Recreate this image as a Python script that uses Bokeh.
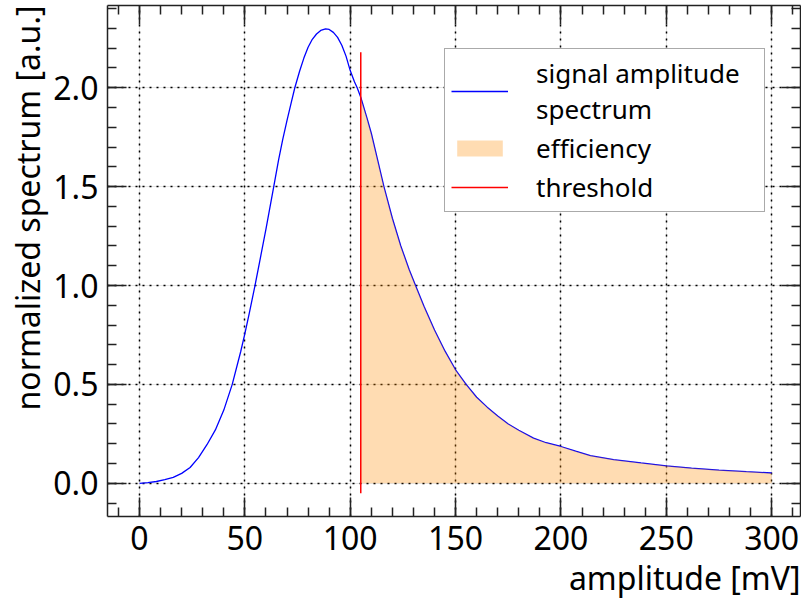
import numpy as np
from bokeh.plotting import figure
from bokeh.models import (Range1d, LinearAxis, Legend, LegendItem, FixedTicker,
                          ColumnDataSource, Grid, Title)
from bokeh.embed import file_html
from bokeh.resources import INLINE

# ---- data ----
amplitude = [0, 4, 8, 12, 16, 20, 24, 28, 32, 36, 40, 44, 48, 50, 52,
             54.7, 57, 60, 63.7, 66, 68, 70, 72, 73.7, 76, 78, 80, 82, 84, 86,
             88.3, 90, 92, 94, 96, 98, 100, 102, 103.3, 105, 108, 110, 113, 116,
             120, 124, 128, 131, 135, 140, 145, 150, 155, 160, 165, 170, 175,
             180, 187, 193, 200, 207, 214, 225, 238, 250, 262, 275, 288, 300]
spectrum = [0.0, 0.003, 0.009, 0.018, 0.03, 0.05, 0.08, 0.13, 0.195, 0.27,
            0.37, 0.5, 0.665, 0.757, 0.855, 0.995, 1.12, 1.285, 1.5, 1.635,
            1.74, 1.835, 1.925, 2.0, 2.085, 2.15, 2.205, 2.245, 2.272, 2.29,
            2.298, 2.295, 2.28, 2.255, 2.215, 2.16, 2.087, 2.03, 2.0, 1.952,
            1.845, 1.77, 1.635, 1.5, 1.34, 1.2, 1.08, 1.0, 0.895, 0.775, 0.668,
            0.574, 0.5, 0.435, 0.385, 0.34, 0.30, 0.268, 0.228, 0.205, 0.186,
            0.162, 0.140, 0.12, 0.103, 0.088, 0.077, 0.067, 0.059, 0.052]
threshold = 105.0
threshold_ymin = -0.05
threshold_ymax = 2.18

x_major = [0, 50, 100, 150, 200, 250, 300]
y_major = [0.0, 0.5, 1.0, 1.5, 2.0]
y_labels = {0.0: "0.0", 0.5: "0.5", 1.0: "1.0", 1.5: "1.5", 2.0: "2.0"}
x_minor = [v for v in range(-10, 320, 10)]
y_minor = [round(v, 1) for v in np.arange(-0.1, 2.45, 0.1)]

x_title = "amplitude [mV]"
y_title = "normalized spectrum [a.u.]"
legend_labels = ["signal amplitude\nspectrum", "efficiency", "threshold"]

FONT = "Noto Sans"
X0, X1 = -15.2, 313.7
Y0, Y1 = -0.168, 2.416

src = ColumnDataSource(dict(x=amplitude, y=spectrum))
eff_x = [a for a in amplitude if a >= threshold]
eff_y = [s for a, s in zip(amplitude, spectrum) if a >= threshold]
eff_src = ColumnDataSource(dict(x=eff_x, y1=[0.0] * len(eff_x), y2=eff_y))

p = figure(width=801, height=599, output_backend="svg", toolbar_location=None,
           x_range=Range1d(X0, X1), y_range=Range1d(Y0, Y1),
           min_border_left=107, min_border_right=1, min_border_top=5,
           min_border_bottom=83, x_axis_location=None, y_axis_location=None)
p.background_fill_color = "white"
p.border_fill_color = "white"
p.outline_line_color = None


def style_axis(ax, show_labels, ticks, minor):
    ax.ticker = FixedTicker(ticks=ticks, minor_ticks=minor)
    ax.axis_line_color = "#222222"
    ax.axis_line_width = 1.5
    ax.major_tick_line_color = "#222222"
    ax.minor_tick_line_color = "#222222"
    ax.major_tick_line_width = 1.5
    ax.minor_tick_line_width = 1.5
    ax.major_tick_in = 19
    ax.major_tick_out = 0
    ax.minor_tick_in = 9
    ax.minor_tick_out = 0
    if show_labels:
        ax.major_label_text_font = FONT
        ax.major_label_text_font_size = "32px"
        ax.major_label_text_color = "black"
    else:
        ax.major_label_overrides = {t: "" for t in ticks}
        ax.major_label_standoff = 0
    ax.axis_label = None


xb = LinearAxis()
style_axis(xb, True, x_major, x_minor)
xb.major_label_standoff = 9
p.add_layout(xb, "below")

yl = LinearAxis()
style_axis(yl, True, y_major, y_minor)
yl.major_label_overrides = y_labels
yl.major_label_standoff = 9
p.add_layout(yl, "left")

xt = LinearAxis()
style_axis(xt, False, x_major, x_minor)
p.add_layout(xt, "above")
yr = LinearAxis()
style_axis(yr, False, y_major, y_minor)
p.add_layout(yr, "right")

# axis titles as side-panel titles, aligned to the right / top end
p.add_layout(Title(text=x_title, align="right", text_font=FONT,
                   text_font_size="32px", text_font_style="normal",
                   text_color="black", standoff=2, offset=0), "below")
p.add_layout(Title(text=y_title, align="right", text_font=FONT,
                   text_font_size="32px", text_font_style="normal",
                   text_color="black", standoff=4, offset=0), "left")

gx = Grid(dimension=0, ticker=FixedTicker(ticks=x_major), grid_line_color="black",
          grid_line_dash="2 5", grid_line_width=1.5)
gy = Grid(dimension=1, ticker=FixedTicker(ticks=y_major), grid_line_color="black",
          grid_line_dash="2 5", grid_line_width=1.5)
p.add_layout(gx)
p.add_layout(gy)

r_line = p.line("x", "y", source=src, line_color="blue", line_width=1.3)
r_fill = p.varea(x="x", y1="y1", y2="y2", source=eff_src,
                 fill_color="darkorange", fill_alpha=0.3)
r_thr = p.segment(x0=[threshold], y0=[threshold_ymin], x1=[threshold],
                  y1=[threshold_ymax], line_color="red", line_width=1.5)

legend = Legend(items=[LegendItem(label=legend_labels[0], renderers=[r_line]),
                       LegendItem(label=legend_labels[1], renderers=[r_fill]),
                       LegendItem(label=legend_labels[2], renderers=[r_thr])],
                location=(337, 304))
legend.label_text_font = FONT
legend.label_text_font_size = "26px"
legend.label_text_line_height = 1.0
legend.label_text_color = "black"
legend.label_standoff = 28
legend.label_width = 222
legend.glyph_width = 57
legend.glyph_height = 20
legend.label_height = 30
legend.spacing = 3
legend.padding = 6
legend.margin = 0
legend.border_line_color = "#555555"
legend.border_line_width = 1.5
legend.background_fill_color = "white"
legend.background_fill_alpha = 1.0
p.add_layout(legend, "center")

open("out.html", "w").write(file_html(p, INLINE))
